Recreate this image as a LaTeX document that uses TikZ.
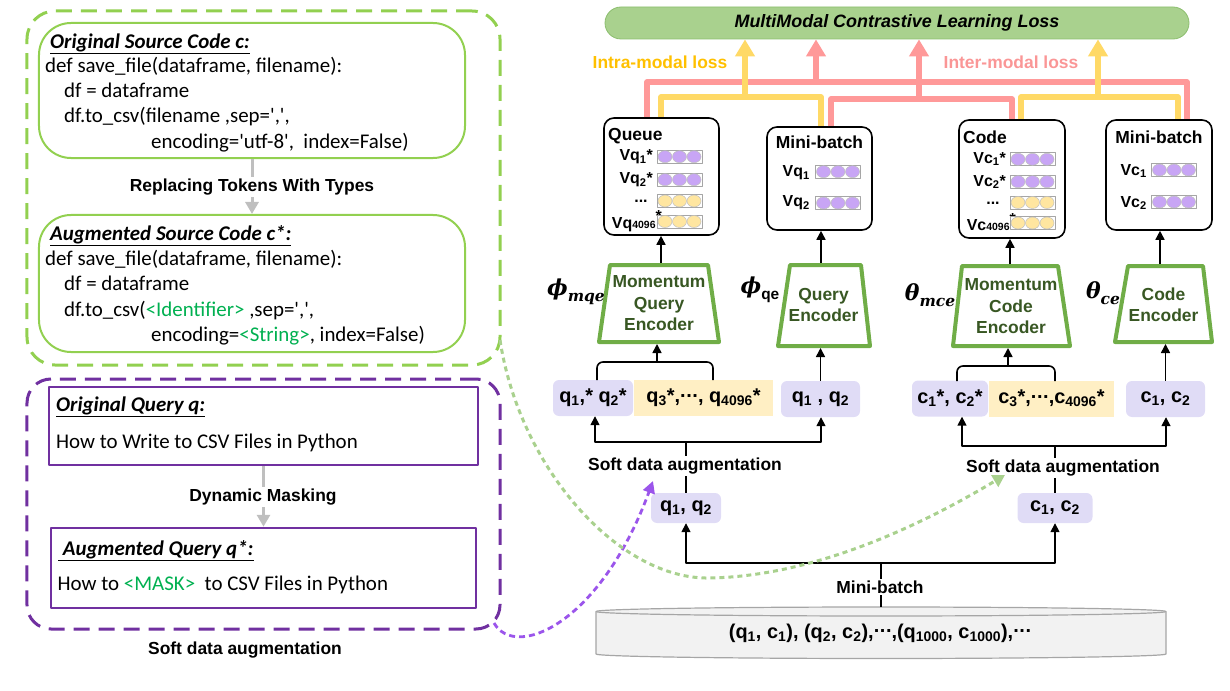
\documentclass[tikz,border=0pt]{standalone}
\usepackage{fontspec}
\setmainfont{Liberation Sans}
\newfontfamily\codefont{Carlito}
\newfontfamily\grkfont{DejaVu Serif}
\usetikzlibrary{arrows.meta}
\definecolor{lossgreen}{RGB}{169,209,142}
\definecolor{lossedge}{RGB}{140,190,110}
\definecolor{pinkl}{RGB}{255,153,153}
\definecolor{yell}{RGB}{255,217,102}
\definecolor{intratext}{RGB}{255,192,0}
\definecolor{intertext}{RGB}{250,150,150}
\definecolor{encgreen}{RGB}{112,173,71}
\definecolor{enctext}{RGB}{56,87,35}
\definecolor{tokp}{RGB}{224,220,246}
\definecolor{toky}{RGB}{255,239,196}
\definecolor{vecp}{RGB}{200,165,245}
\definecolor{vecy}{RGB}{255,230,160}
\definecolor{dgreen}{RGB}{146,208,80}
\definecolor{dpurple}{RGB}{112,48,160}
\definecolor{curvep}{RGB}{155,85,235}
\definecolor{curveg}{RGB}{169,209,142}
\definecolor{codegreen}{RGB}{0,176,80}
\definecolor{grayarr}{RGB}{191,191,191}
\definecolor{cylfill}{RGB}{242,242,242}
\definecolor{cylline}{RGB}{166,166,166}
\newcommand\dts{\raisebox{0.28em}{.\kern0.03em.\kern0.03em.}}
\newcommand\sq{\textquotesingle}
\newcommand\grksub[1]{\raisebox{-0.28em}{\fontsize{15.5}{18}\selectfont #1}}
\begin{document}
\begin{tikzpicture}[x=1bp,y=-1bp,line join=round,
 lbl/.style={font=\fontsize{17.5}{20}\selectfont\bfseries, inner sep=1.5bp},
 wlbl/.style={lbl, fill=white},
 vlbl/.style={font=\fontsize{16}{18}\selectfont\bfseries, inner sep=0bp},
 dotlbl/.style={font=\fontsize{16}{18}\selectfont\bfseries, inner sep=0bp, anchor=base, text height=3bp, text depth=0bp},
 toktxt/.style={font=\fontsize{20}{24}\selectfont\bfseries, inner sep=0bp},
 arr/.style={line width=1.6bp, -{Triangle[length=9bp,width=9bp]}},
 blk/.style={line width=1.6bp},
 lossln/.style={line width=5.5bp, draw=#1},
 lossarr/.style={line width=5.5bp, draw=#1, -{Triangle[length=17bp,width=19bp]}},
 vbox/.style={draw, line width=1.6bp, rounded corners=10bp, fill=white, inner sep=0bp},
 tokbox/.style={fill=#1, rounded corners=6bp, inner sep=0bp, minimum height=36bp, toktxt},
 tokrect/.style={fill=#1, inner sep=0bp, minimum height=36bp, toktxt},
 enc/.style={draw=encgreen, line width=4bp, fill=white},
 enctxt/.style={font=\fontsize{17.5}{21.5}\selectfont\bfseries, text=enctext, align=center, inner sep=0bp},
 greeklbl/.style={font=\grkfont\fontsize{22}{26}\selectfont\bfseries\itshape, inner sep=0bp},
 codetxt/.style={font=\codefont\fontsize{21}{24}\selectfont, anchor=base west, inner sep=0bp},
 garr/.style={draw=grayarr, line width=3bp, -{Triangle[length=12bp,width=13bp]}},
 pics/vec/.style={code={
   \draw[draw=black!35, line width=0.6bp, fill=white] (-22.5,-6.5) rectangle (22.5,6.5);
   \foreach \cx in {-14.5,0,14.5} \draw[draw=black!25, line width=0.5bp, fill=#1] (\cx,0) ellipse [x radius=7bp, y radius=6bp];
 }}
]
\useasboundingbox (0,0) rectangle (1230,691);

% ---------- loss bar ----------
\node[draw=lossedge, fill=lossgreen, line width=0.8bp, rounded corners=16bp, minimum width=584bp, minimum height=32bp, inner sep=0bp, font=\fontsize{18}{20}\selectfont\bfseries\itshape] (loss) at (897,23) {MultiModal Contrastive Learning Loss};

% ---------- embedding boxes ----------
\node[vbox, minimum width=115bp, minimum height=117bp] (queue) at (661.5,176.5) {};
\node[vbox, minimum width=105bp, minimum height=103bp] (mbq) at (819.5,178.5) {};
\node[vbox, minimum width=106bp, minimum height=118bp] (code) at (1012,179) {};
\node[vbox, minimum width=106bp, minimum height=110bp] (mbc) at (1159,175) {};

% ---------- loss connectors ----------
\draw[lossln=pinkl] ([xshift=-14.5bp]queue.north) -- ++(0,-35) -| ([xshift=28bp]mbc.north);
\draw[lossln=pinkl] ([xshift=11.5bp]mbq.north) -- ++(0,-27) -| (code.north);
\coordinate (pk1) at (816,83);
\coordinate (pk2) at (919,100);
\draw[lossarr=pinkl] (pk1) -- (pk1 |- loss.south);
\draw[lossarr=pinkl] (pk2) -- (pk2 |- loss.south);
\draw[lossln=yell] ([xshift=-0.5bp]queue.north) -- ++(0,-20) -| ([xshift=1.5bp]mbq.north);
\draw[lossln=yell] ([xshift=9bp]code.north) -- ++(0,-22) -| ([xshift=19bp]mbc.north);
\coordinate (yl1) at (745,98);
\coordinate (yl2) at (1098,98);
\draw[lossarr=yell] (yl1) -- (yl1 |- loss.south);
\draw[lossarr=yell] (yl2) -- (yl2 |- loss.south);
\node[font=\fontsize{17.5}{20}\selectfont\bfseries, text=intratext] (intra) at (660,62) {Intra-modal loss};
\node[font=\fontsize{17.5}{20}\selectfont\bfseries, text=intertext] (inter) at (1011,62) {Inter-modal loss};

% ---------- box contents ----------
\node[lbl, anchor=west, inner sep=0bp] (tq) at (608,136) {Queue};
\node[lbl] (tmq) at (819.5,142) {Mini-batch};
\node[lbl, anchor=west, inner sep=0bp] (tc) at (963,137) {Code};
\node[lbl] (tmc) at (1159,137) {Mini-batch};

\node[vlbl, anchor=east] (q1l) at (653,157) {Vq\textsubscript{1}*};
\pic at (679.5,156.7) {vec=vecp};
\node[vlbl, anchor=east] (q2l) at (653,180) {Vq\textsubscript{2}*};
\pic at (679.5,179.7) {vec=vecp};
\node[dotlbl] (q3l) at (641,203) {...};
\pic at (679.5,201) {vec=vecy};
\node[vlbl, anchor=east] (q4l) at (662,221) {Vq{\fontsize{10.5}{12}\selectfont 4096}\raisebox{0.4em}{*}};
\pic at (679.5,221.5) {vec=vecy};

\node[vlbl, anchor=east] (mq1l) at (810,173) {Vq\textsubscript{1}};
\pic at (838,171.7) {vec=vecp};
\node[vlbl, anchor=east] (mq2l) at (810,203) {Vq\textsubscript{2}};
\pic at (838,203) {vec=vecp};

\node[vlbl, anchor=east] (c1l) at (1006,159) {Vc\textsubscript{1}*};
\pic at (1032.5,159.3) {vec=vecp};
\node[vlbl, anchor=east] (c2l) at (1006,182) {Vc\textsubscript{2}*};
\pic at (1032.5,181.7) {vec=vecp};
\node[dotlbl] (c3l) at (993,205) {...};
\pic at (1032.5,202.5) {vec=vecy};
\node[vlbl, anchor=east] (c4l) at (1016,222) {Vc{\fontsize{10.5}{12}\selectfont 4096}\raisebox{0.4em}{*}};
\pic at (1032.5,223) {vec=vecy};

\node[vlbl, anchor=east] (mc1l) at (1147,171) {Vc\textsubscript{1}};
\pic at (1174,170) {vec=vecp};
\node[vlbl, anchor=east] (mc2l) at (1147,203) {Vc\textsubscript{2}};
\pic at (1174,202) {vec=vecp};

% ---------- encoders ----------
\draw[enc] (610,265) -- (708,265) -- (719,342) -- (599,342) -- cycle;
\node[enctxt] (e1) at (659,303.5) {Momentum\\Query\\Encoder};
\draw[enc] (790,265) -- (861,265) -- (870,346) -- (778,346) -- cycle;
\node[enctxt] (e2) at (823.5,305) {Query\\Encoder};
\draw[enc] (962,266) -- (1058,266) -- (1070,346) -- (953,346) -- cycle;
\node[enctxt] (e3) at (1011,306.5) {Momentum\\Code\\Encoder};
\draw[enc] (1128,266) -- (1203,266) -- (1212,342) -- (1115,342) -- cycle;
\node[enctxt] (e4) at (1163.5,304.5) {Code\\Encoder};
\coordinate (e1t) at (661,263);
\coordinate (e1b) at (657,344);
\coordinate (e2t) at (821,263);
\coordinate (e2b) at (820.5,348);
\coordinate (e3t) at (1010,264);
\coordinate (e3b) at (1008,348);
\coordinate (e4t) at (1160,264);
\coordinate (e4b) at (1165.5,344);

\node[greeklbl] (phimqe) at (576,292) {ϕ\grksub{mqe}};
\node[greeklbl] (phiqe) at (760,290) {ϕ\grksub{\normalfont\fontsize{15.5}{18}\selectfont\bfseries qe}};
\node[greeklbl] (thmce) at (930,295) {θ\grksub{mce}};
\node[greeklbl] (thce) at (1103,293) {θ\grksub{ce}};

\draw[arr] (e1t) -- (e1t |- queue.south);
\draw[arr] (e2t) -- (e2t |- mbq.south);
\draw[arr] (e3t) -- (e3t |- code.south);
\draw[arr] (e4t) -- (e4t |- mbc.south);

% ---------- token rows ----------
\node[tokbox=tokp, minimum width=80bp] (qp) at (593,398) {q\textsubscript{1},* q\textsubscript{2}*};
\node[tokrect=toky, minimum width=139bp] (qy) at (703.5,398) {q\textsubscript{3}*,\dts, q\textsubscript{4096}*};
\node[tokbox=tokp, minimum width=79bp] (qb) at (820.5,399) {q\textsubscript{1} , q\textsubscript{2}};
\node[tokbox=tokp, minimum width=76bp] (cp) at (950,398.5) {c\textsubscript{1}*, c\textsubscript{2}*};
\node[tokrect=toky, minimum width=125bp] (cy) at (1051.5,398.5) {c\textsubscript{3}*,\dts,c\textsubscript{4096}*};
\node[tokbox=tokp, minimum width=79bp] (cb) at (1165.5,399) {c\textsubscript{1}, c\textsubscript{2}};

\draw[blk, rounded corners=6bp] (597,380) -- (597,362) -- (713,362) -- (713,380);
\coordinate (br1) at (657,362);
\draw[arr] (br1) -- (e1b);
\draw[blk, rounded corners=6bp] (957,381) -- (957,366) -- (1055,366) -- (1055,381);
\coordinate (br2) at (1008,366);
\draw[arr] (br2) -- (e3b);
\draw[arr] (qb.north) -- (e2b);
\draw[arr] (cb.north) -- (e4b);

% ---------- augmentation ----------
\node[tokbox=tokp, minimum width=70bp, minimum height=30bp] (lq) at (686,508) {q\textsubscript{1}, q\textsubscript{2}};
\node[tokbox=tokp, minimum width=75bp, minimum height=30bp] (lc) at (1055,508) {c\textsubscript{1}, c\textsubscript{2}};
\coordinate (j1) at (686,442);
\coordinate (j2) at (1055,446);
\draw[blk] (lq.north) -- (j1);
\draw[arr] (j1) -| ([xshift=2bp]qp.south);
\draw[arr] (j1) -| ([xshift=0.5bp]qb.south);
\draw[blk] (lc.north) -- (j2);
\draw[arr] (j2) -| ([xshift=12bp]cp.south);
\draw[arr] (j2) -| ([xshift=0.5bp]cb.south);
\node[wlbl] (sda1) at (685,466) {Soft data augmentation};
\node[wlbl] (sda2) at (1063,468) {Soft data augmentation};

% ---------- dataset cylinder ----------
\draw[cylline, fill=cylfill, line width=1.2bp] (596,611.5) -- (596,654) arc[start angle=180, end angle=360, x radius=285bp, y radius=4.5bp] -- (1166,611.5) arc[start angle=0, end angle=180, x radius=285bp, y radius=4.5bp] -- cycle;
\draw[cylline, line width=1.2bp] (596,611.5) arc[start angle=180, end angle=360, x radius=285bp, y radius=4.5bp];
\node[font=\fontsize{20}{23}\selectfont\bfseries, inner sep=0bp] (data) at (880,633) {(q\textsubscript{1}, c\textsubscript{1}), (q\textsubscript{2}, c\textsubscript{2}),\dts,(q\textsubscript{1000}, c\textsubscript{1000}),\dts};
\coordinate (cyltop) at (881,607);
\coordinate (j3) at (881,563);
\draw[blk] (cyltop) -- (j3);
\draw[arr] (j3) -| (lq.south);
\draw[arr] (j3) -| (lc.south);
\node[wlbl] (mbl) at (880,587) {Mini-batch};

% ---------- left: code augmentation ----------
\node[draw=dgreen, line width=3bp, dash pattern=on 16bp off 9bp, rounded corners=28bp, minimum width=473bp, minimum height=354bp, inner sep=0bp] (gbox) at (263.5,188) {};
\node[draw=dgreen, line width=2bp, rounded corners=32bp, minimum width=426bp, minimum height=135bp, inner sep=0bp] (cb1) at (252,90.5) {};
\node[draw=dgreen, line width=2bp, rounded corners=32bp, minimum width=426bp, minimum height=137bp, inner sep=0bp] (cb2) at (252,283.5) {};
\node[codetxt] (t1) at (50,48.5) {\underline{\bfseries\itshape Original Source Code c:}};
\node[codetxt] (t2) at (45,73) {def save\_file(dataframe, filename):};
\node[codetxt] (t3) at (64,98) {df = dataframe};
\node[codetxt] (t4) at (64,123) {df.to\_csv(filename ,sep=\sq,\sq,};
\node[codetxt] (t5) at (151,148.5) {encoding=\sq utf-8\sq,\ \ index=False)};
\node[codetxt] (u1) at (50,240.7) {\underline{\bfseries\itshape Augmented Source Code c*:}};
\node[codetxt] (u2) at (45,265.5) {def save\_file(dataframe, filename):};
\node[codetxt] (u3) at (64,290.5) {df = dataframe};
\node[codetxt] (u4) at (64,316.5) {df.to\_csv(\textcolor{codegreen}{<Identifier>} ,sep=\sq,\sq,};
\node[codetxt] (u5) at (151,341.5) {encoding=\textcolor{codegreen}{<String>}, index=False)};
\draw[garr] (cb1.south) -- (cb2.north);
\node[wlbl] (rtt) at (252,187) {Replacing Tokens With Types};

% ---------- left: query augmentation ----------
\node[draw=dpurple, line width=3bp, dash pattern=on 16bp off 9bp, rounded corners=24bp, minimum width=473bp, minimum height=250bp, inner sep=0bp] (pbox) at (263.5,504) {};
\node[draw=dpurple, line width=2.5bp, minimum width=429bp, minimum height=78bp, inner sep=0bp] (qb1) at (263.5,426) {};
\node[draw=dpurple, line width=2.5bp, minimum width=425bp, minimum height=80bp, inner sep=0bp] (qb2) at (263.5,568) {};
\node[codetxt] (v1) at (56,411.7) {\underline{\bfseries\itshape Original Query q:}};
\node[codetxt] (v2) at (56,448.3) {How to Write to CSV Files in Python};
\node[codetxt] (w1) at (58,555) {\underline{\bfseries\itshape\ Augmented Query q*:}};
\node[codetxt] (w2) at (57.5,590.7) {How to \textcolor{codegreen}{<MASK>}\ \ to CSV Files in Python};
\draw[garr] (qb1.south) -- (qb2.north);
\node[wlbl] (dm) at (263,497) {Dynamic Masking};
\node[lbl] (sda0) at (245,650) {Soft data augmentation};

% ---------- dashed curves ----------
\coordinate (pstart) at (494,623);
\coordinate (pend) at (653,481);
\draw[curvep, line width=2.8bp, dash pattern=on 6bp off 4bp, -{Triangle[length=12bp,width=12bp]}] (pstart) .. controls (515,660) and (600,625) .. (pend);
\coordinate (gstart) at (500,340);
\coordinate (gmid) at (710,578);
\coordinate (gend) at (1005,475);
\draw[curveg, line width=3bp, dash pattern=on 5bp off 4bp, -{Triangle[length=12bp,width=13bp]}] (gstart) .. controls (520,470) and (620,580) .. (gmid) .. controls (820,576) and (930,520) .. (gend);
\end{tikzpicture}
\end{document}
